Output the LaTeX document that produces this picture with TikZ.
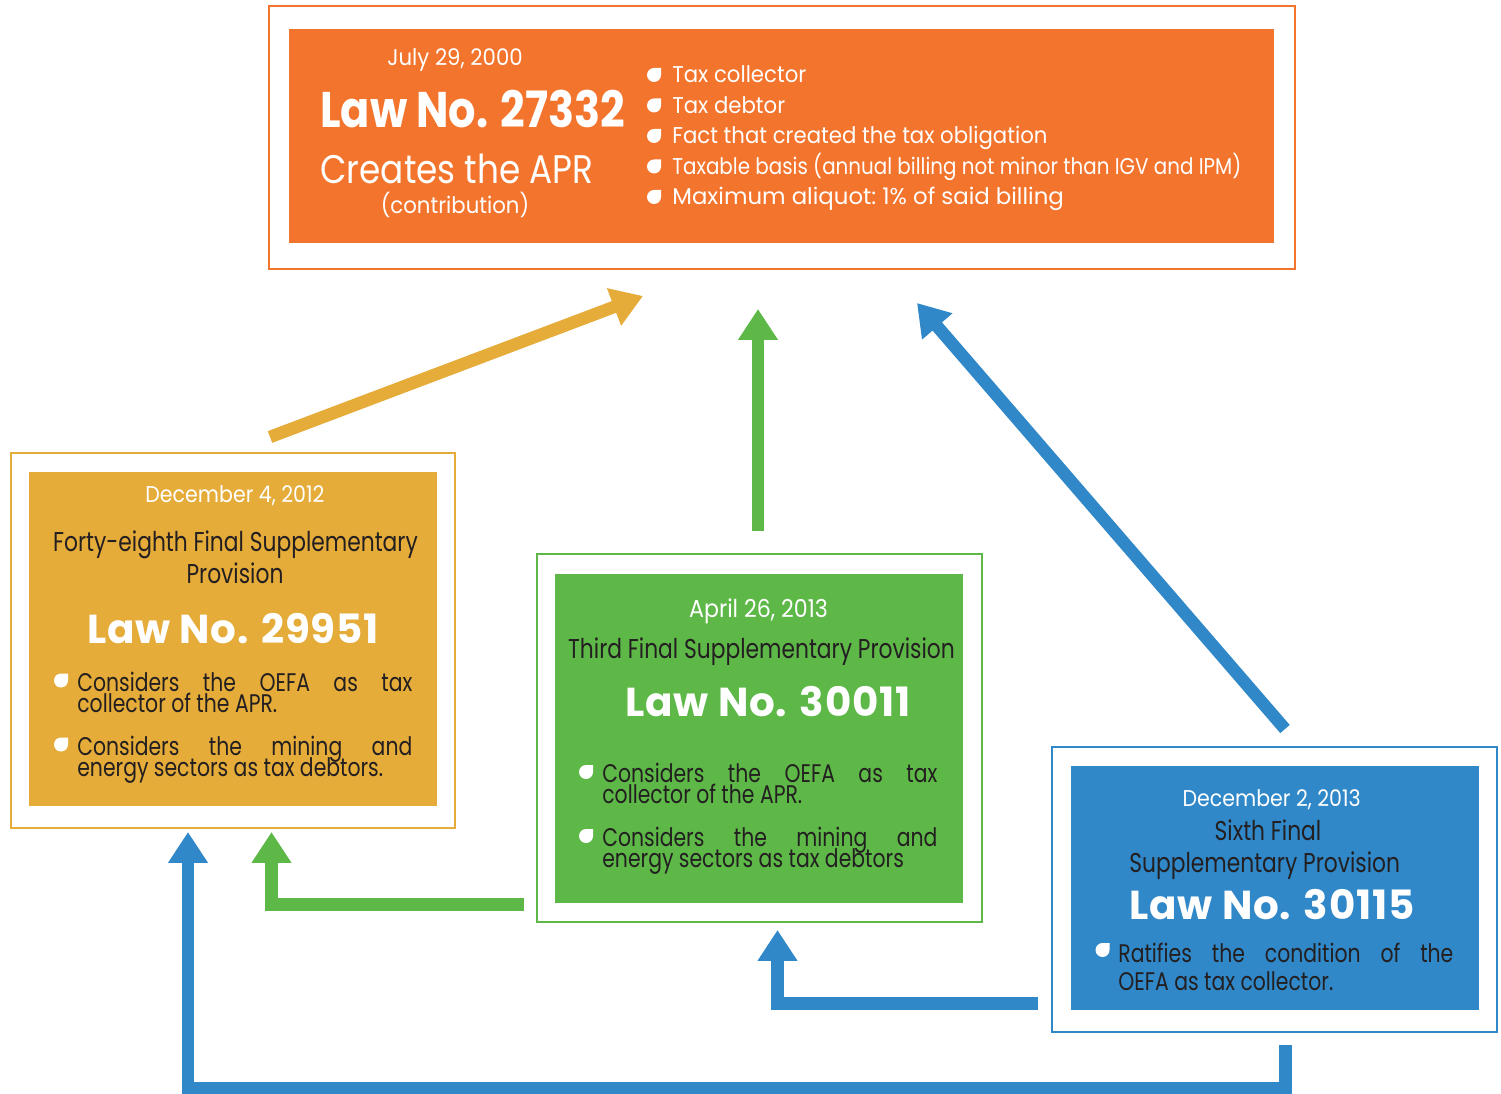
\documentclass[tikz,border=0pt]{standalone}
\usepackage{fontspec}
\setmainfont{Poppins}
\newfontfamily\topfont[FakeStretch=0.93]{Poppins}
\newfontfamily\toptitlefont[FakeStretch=0.86]{Poppins}
\newfontfamily\squeezefont[FakeStretch=0.87]{Poppins}
\newfontfamily\widefont[FakeStretch=1.0]{Poppins}
\newfontfamily\boxfont[FakeStretch=0.8]{Poppins}
\newfontfamily\datefont[FakeStretch=0.9]{Poppins}
\newfontfamily\lawfont[LetterSpace=2]{Poppins}
\usetikzlibrary{arrows.meta}
\definecolor{aprorange}{HTML}{F3742C}
\definecolor{lawyellow}{HTML}{E5AC3A}
\definecolor{lawgreen}{HTML}{5DB848}
\definecolor{lawblue}{HTML}{3088C8}
\definecolor{inkdark}{HTML}{231F20}
\newdimen\pxu \pxu=0.02cm
\newcommand\tightlines{\lineskiplimit=-30pt\relax\lineskip=0pt\relax}
\tikzset{
  lawframe/.style={draw=#1, line width=2.5\pxu, inner sep=0pt, outer sep=0pt},
  lawpanel/.style={fill=#1, inner sep=0pt, outer sep=0pt},
  datetxt/.style={text=white, inner sep=0pt, anchor=base, font=\datefont\fontsize{13}{15}\selectfont},
  headtxt/.style={text=inkdark, inner sep=0pt, anchor=base, font=\boxfont\fontsize{15.5}{17}\selectfont},
  lawtxt/.style={text=white, inner sep=0pt, anchor=base, font=\lawfont\bfseries\fontsize{23}{25}\selectfont},
  itemtxt/.style={text=inkdark, inner sep=0pt, anchor=base west, text width=335\pxu, align=justify,
    font=\boxfont\fontsize{14.5}{12}\selectfont, execute at begin node=\tightlines},
  toptxt/.style={text=white, inner sep=0pt, anchor=base west, font=\topfont\fontsize{13}{15}\selectfont},
  flow/.style={line width=0.25cm, draw=#1, -{Triangle[length=6.2mm,width=7.6mm]}},
  leaf/.pic={\fill[white] (0:7\pxu) arc[start angle=0, end angle=-270, radius=7\pxu] -- (7\pxu,7\pxu) -- cycle;},
}
\begin{document}
\begin{tikzpicture}[x=0.02cm, y=-0.02cm]
\useasboundingbox (0,0) rectangle (1501,1094);
% Law No. 27332
\node[lawframe=aprorange, minimum width=1026\pxu, minimum height=263\pxu] (frame27332) at (782,137.5) {};
\node[lawpanel=aprorange, minimum width=985\pxu, minimum height=214\pxu] (law27332) at (781.5,136) {};
\node[toptxt, anchor=base] (date27332) at (455,66) {July 29, 2000};
\node[toptxt, font=\toptitlefont\bfseries\fontsize{28.5}{30}\selectfont] (title27332) at (320,128) {Law No. 27332};
\node[toptxt, font=\toptitlefont\fontsize{22.7}{24}\selectfont] (sub27332) at (320,184) {Creates the APR};
\node[toptxt, anchor=base] (note27332) at (455,214) {(contribution)};
\foreach \txt [count=\i] in {Tax collector, Tax debtor, Fact that created the tax obligation,
  {\squeezefont Taxable basis (annual billing not minor than IGV and IPM)},
  {\widefont Maximum aliquot:\ 1\% of said billing}}{
  \node[toptxt] (top\i) at (672,52.5+30.5*\i) {\txt};
  \pic at ([shift={(-18\pxu,8\pxu)}]top\i.base west) {leaf};
}
% Law No. 29951
\node[lawframe=lawyellow, minimum width=444\pxu, minimum height=375\pxu] (frame29951) at (233,640.5) {};
\node[lawpanel=lawyellow, minimum width=408\pxu, minimum height=334\pxu] (law29951) at (233,639) {};
\node[datetxt] (date29951) at (235,503) {December 4, 2012};
\node[headtxt] (head29951a) at (235.5,552) {Forty-eighth Final Supplementary};
\node[headtxt] (head29951b) at (235,583) {Provision};
\node[lawtxt] (title29951) at (233,643) {Law No. 29951};
\node[itemtxt] (item29951a) at (77,691) {Considers the OEFA as tax\linebreak collector of the APR.};
\node[itemtxt] (item29951b) at (77,755) {Considers the mining and\linebreak energy sectors as tax debtors.};
\pic at ([shift={(-16\pxu,10.5\pxu)}]item29951a.base west) {leaf};
\pic at ([shift={(-16\pxu,10.5\pxu)}]item29951b.base west) {leaf};
% Law No. 30011
\node[lawframe=lawgreen, minimum width=445\pxu, minimum height=368\pxu] (frame30011) at (759.5,738) {};
\node[lawpanel=lawgreen, minimum width=408\pxu, minimum height=329\pxu] (law30011) at (759,738.5) {};
\node[datetxt, font=\datefont\fontsize{14}{16}\selectfont] (date30011) at (758.5,617) {April 26, 2013};
\node[headtxt] (head30011) at (761.5,658) {Third Final Supplementary Provision};
\node[lawtxt] (title30011) at (768,716) {Law No. 30011};
\node[itemtxt] (item30011a) at (602,782) {Considers the OEFA as tax\linebreak collector of the APR.};
\node[itemtxt] (item30011b) at (602,846) {Considers the mining and\linebreak energy sectors as tax debtors};
\pic at ([shift={(-16\pxu,10\pxu)}]item30011a.base west) {leaf};
\pic at ([shift={(-16\pxu,10\pxu)}]item30011b.base west) {leaf};
% Law No. 30115
\node[lawframe=lawblue, minimum width=445\pxu, minimum height=285\pxu] (frame30115) at (1274.5,889.5) {};
\node[lawpanel=lawblue, minimum width=408\pxu, minimum height=244\pxu] (law30115) at (1275,888) {};
\node[datetxt] (date30115) at (1271.7,806) {December 2, 2013};
\node[headtxt] (head30115a) at (1268,840) {Sixth Final};
\node[headtxt] (head30115b) at (1264.7,872) {Supplementary Provision};
\node[lawtxt] (title30115) at (1272,919) {Law No. 30115};
\node[itemtxt, font=\boxfont\fontsize{14.5}{16.4}\selectfont] (item30115) at (1118,962) {Ratifies the condition of the\linebreak OEFA as tax collector.};
\pic at ([shift={(-15.5\pxu,12\pxu)}]item30115.base west) {leaf};
% arrows
\coordinate (ys) at (270,437);
\coordinate (ye) at (643,296);
\coordinate (gs) at (758,531);
\coordinate (ge) at (758,309);
\coordinate (bs) at (1285,729);
\coordinate (be) at (917,303);
\coordinate (g2s) at (524,904.5);
\coordinate (g2e) at (271.5,832);
\coordinate (b2s) at (1038,1003.5);
\coordinate (b2e) at (777.5,930);
\coordinate (b3s) at (1285.5,1045);
\coordinate (b3c) at (188,1088);
\coordinate (b3e) at (188,832);
\draw[flow=lawyellow] (ys) -- (ye);
\draw[flow=lawgreen] (gs) -- (ge);
\draw[flow=lawblue] (bs) -- (be);
\draw[flow=lawgreen] (g2s) -| (g2e);
\draw[flow=lawblue] (b2s) -| (b2e);
\draw[flow=lawblue] (b3s) |- (b3c) -- (b3e);
\end{tikzpicture}
\end{document}
